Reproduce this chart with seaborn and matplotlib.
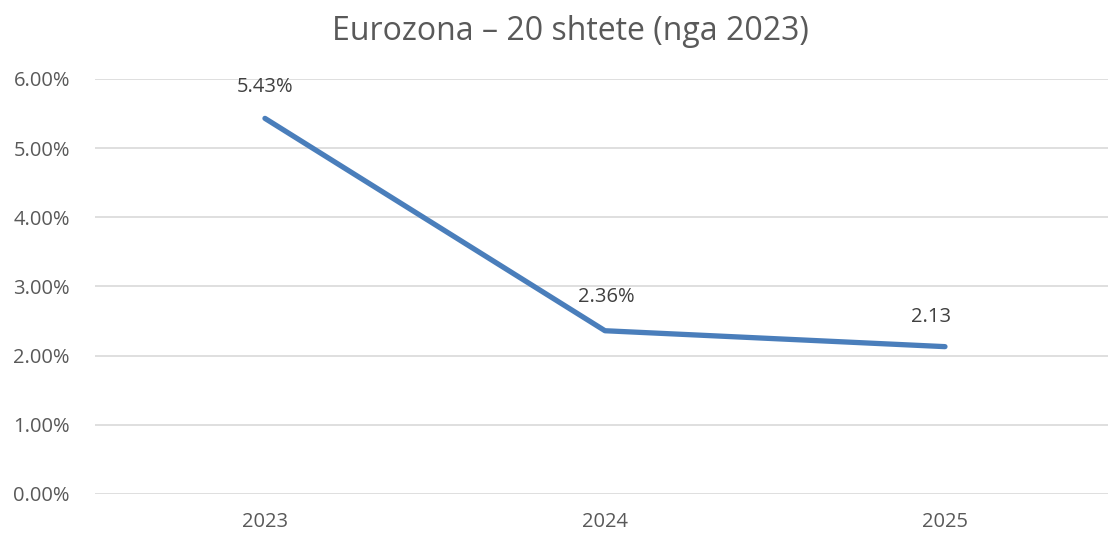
import matplotlib
matplotlib.use("Agg")
import matplotlib.pyplot as plt
import pandas as pd
import seaborn as sns

# data
years = ["2023", "2024", "2025"]
rates = [5.43, 2.36, 2.13]
point_labels = ["5.43%", "2.36%", "2.13"]
title = "Eurozona \u2013 20 shtete (nga 2023)"

df = pd.DataFrame({"year": years, "rate": rates})

sns.set_theme(style="white")
plt.rcParams["font.family"] = ["Open Sans", "DejaVu Sans"]

text_col = "#595959"
fig = plt.figure(figsize=(11.08, 5.36), dpi=100)
ax = fig.add_axes([0.0857, 0.0784, 0.9206, 0.7743])

sns.lineplot(data=df, x="year", y="rate", ax=ax, color="#4a7ebb",
             linewidth=3.8, solid_capstyle="round", sort=False)

ax.set_ylim(0, 6)
ax.set_xlim(-0.5, 2.5)
ax.set_yticks(range(0, 7))
ax.set_yticklabels([f"{v:.2f}%" for v in range(0, 7)])
ax.yaxis.grid(True, color="#d9d9d9", linewidth=1.2)
ax.set_axisbelow(True)
for s in ax.spines.values():
    s.set_visible(False)
ax.tick_params(axis="both", length=0, labelsize=14.5, colors=text_col)
ax.tick_params(axis="x", pad=13)
ax.tick_params(axis="y", pad=18)
ax.set_xlabel("")
ax.set_ylabel("")

offsets = [(0, 22.5), (1, 24), (-10, 21.5)]
for i, (v, lab) in enumerate(zip(rates, point_labels)):
    ax.annotate(lab, (i, v), xytext=offsets[i], textcoords="offset points",
                ha="center", va="center", fontsize=14.5, color="#404040")

fig.text(0.515, 0.942, title, ha="center", va="center", fontsize=23, color=text_col)

fig.savefig("out.png", dpi=100)
